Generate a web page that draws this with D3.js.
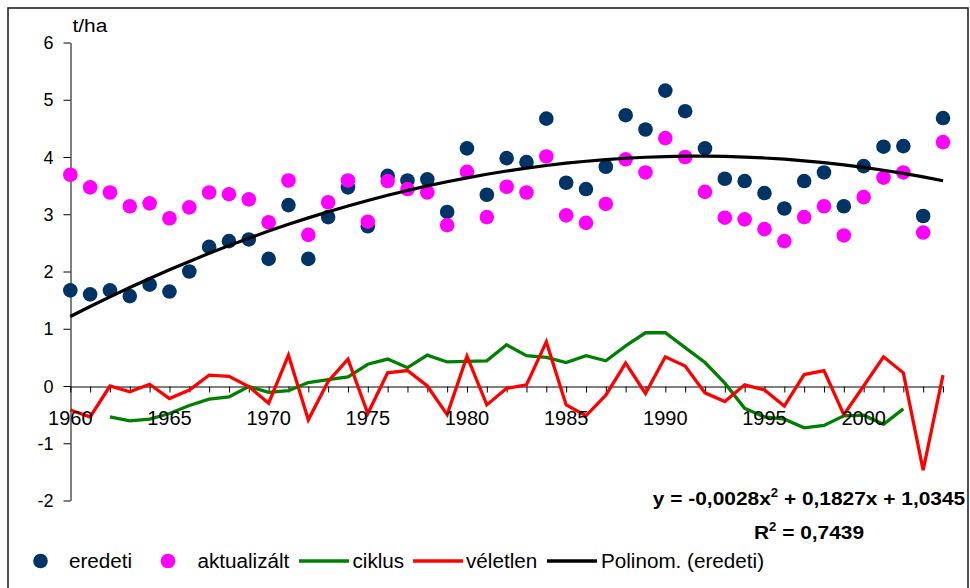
<!DOCTYPE html>
<html>
<head>
<meta charset="utf-8">
<script src="https://cdn.jsdelivr.net/npm/d3@7"></script>
<style>
  html, body { margin: 0; padding: 0; background: #fff; }
  svg { display: block; font-family: "Liberation Sans", Arial, sans-serif; }
</style>
</head>
<body>
<svg id="chart" width="970" height="588"></svg>
<script>
// Terméshozam idősor, 1960–2004 (t/ha)
const firstYear = 1960;
const lastYear = 2004;
const years = d3.range(firstYear, lastYear + 1);

const eredeti = [
  1.67, 1.60, 1.67, 1.57, 1.77, 1.65, 2.00, 2.43, 2.53, 2.56,
  2.22, 3.16, 2.22, 2.95, 3.47, 2.79, 3.67, 3.59, 3.61, 3.04,
  4.15, 3.34, 3.98, 3.91, 4.67, 3.55, 3.44, 3.83, 4.73, 4.48,
  5.16, 4.80, 4.15, 3.62, 3.58, 3.37, 3.10, 3.58, 3.73, 3.14,
  3.84, 4.18, 4.19, 2.97, 4.68
];

const aktualizalt = [
  3.69, 3.47, 3.38, 3.14, 3.19, 2.93, 3.12, 3.38, 3.35, 3.26,
  2.86, 3.59, 2.64, 3.21, 3.59, 2.87, 3.58, 3.44, 3.38, 2.81,
  3.74, 2.95, 3.48, 3.38, 4.01, 2.98, 2.85, 3.18, 3.96, 3.73,
  4.33, 4.00, 3.39, 2.94, 2.91, 2.74, 2.53, 2.95, 3.14, 2.63,
  3.30, 3.64, 3.73, 2.68, 4.26
];

const ciklus = [
  null, null, -0.54, -0.61, -0.58, -0.48, -0.34, -0.23, -0.19, -0.01,
  -0.11, -0.08, 0.06, 0.11, 0.16, 0.38, 0.47, 0.32, 0.54, 0.42,
  0.43, 0.44, 0.72, 0.53, 0.50, 0.41, 0.53, 0.44, 0.70, 0.93,
  0.93, 0.67, 0.41, 0.05, -0.39, -0.54, -0.58, -0.73, -0.69, -0.52,
  -0.51, -0.67, -0.40, null, null
];

const veletlen = [
  -0.42, -0.54, 0.00, -0.10, 0.03, -0.22, -0.07, 0.19, 0.17, -0.01,
  -0.30, 0.54, -0.59, 0.08, 0.47, -0.48, 0.23, 0.27, 0.00, -0.50,
  0.52, -0.33, -0.04, 0.02, 0.77, -0.33, -0.52, -0.16, 0.40, -0.13,
  0.51, 0.35, -0.12, -0.27, 0.02, -0.07, -0.35, 0.20, 0.27, -0.50,
  0.00, 0.51, 0.23, -1.47, 0.19
];

// Másodfokú trend együtthatói (x = 1 .. 45): a, b, c
const polyCoef = [-0.0028, 0.1827, 1.0345];
const r2 = "0,7439";

const yTicks = [6, 5, 4, 3, 2, 1, 0, -1, -2];
const xLabelYears = [1960, 1965, 1970, 1975, 1980, 1985, 1990, 1995, 2000];

const colors = {
  eredeti: "#003366",
  aktualizalt: "#ff00ff",
  ciklus: "#008000",
  veletlen: "#ff0000",
  trend: "#000000"
};

const svg = d3.select("#chart");

// Külső keret
svg.append("rect")
  .attr("x", 8).attr("y", 8)
  .attr("width", 960).attr("height", 600)
  .attr("fill", "#fff")
  .attr("stroke", "#222").attr("stroke-width", 1.6);

const x = d3.scalePoint().domain(years).range([70.3, 943]);
const y = d3.scaleLinear().domain([-2, 6]).range([500.5, 42.5]);

// Függőleges tengely
const yAxis = svg.append("g")
  .attr("transform", "translate(70.5,0)")
  .call(d3.axisLeft(y).tickValues(yTicks).tickSize(7).tickSizeOuter(0).tickFormat(""));
yAxis.select(".domain").attr("stroke", "#000");
yAxis.selectAll(".tick line").attr("stroke", "#000");

svg.append("g").selectAll("text")
  .data(yTicks)
  .join("text")
  .attr("x", 53.5)
  .attr("y", d => y(d) + 6.5)
  .attr("text-anchor", "end")
  .attr("font-size", 18)
  .attr("fill", "#000")
  .text(d => d < 0 ? "-" + Math.abs(d) : String(d));

// Mértékegység
svg.append("text")
  .attr("transform", "translate(72.5,31.5) scale(1.1,1)")
  .attr("font-size", 19)
  .attr("fill", "#000")
  .text("t/ha");

// Vízszintes tengely a nullánál
const xAxis = svg.append("g")
  .attr("transform", `translate(0,${Math.round(y(0)) + 0.5})`)
  .call(d3.axisBottom(x).tickSize(6).tickSizeOuter(0).tickFormat(""));
xAxis.select(".domain").attr("stroke", "#000");
xAxis.selectAll(".tick line").attr("stroke", "#000");

// Pontsorok
const dotR = 7.3;
svg.append("g").selectAll("circle")
  .data(eredeti.map((v, i) => ({ yr: years[i], v })))
  .join("circle")
  .attr("cx", d => x(d.yr)).attr("cy", d => y(d.v))
  .attr("r", dotR).attr("fill", colors.eredeti);

svg.append("g").selectAll("circle")
  .data(aktualizalt.map((v, i) => ({ yr: years[i], v })))
  .join("circle")
  .attr("cx", d => x(d.yr)).attr("cy", d => y(d.v))
  .attr("r", dotR).attr("fill", colors.aktualizalt);

// Vonalak
const line = d3.line()
  .defined(d => d.v !== null)
  .x(d => x(d.yr))
  .y(d => y(d.v));

svg.append("path")
  .datum(ciklus.map((v, i) => ({ yr: years[i], v })))
  .attr("d", line)
  .attr("fill", "none")
  .attr("stroke", colors.ciklus)
  .attr("stroke-width", 3.3);

svg.append("path")
  .datum(veletlen.map((v, i) => ({ yr: years[i], v })))
  .attr("d", line)
  .attr("fill", "none")
  .attr("stroke", colors.veletlen)
  .attr("stroke-width", 3.3);

// Polinomiális trend az egyenlet együtthatóiból
const trend = years.map((yr, i) => {
  const t = i + 1;
  return { yr, v: polyCoef[0] * t * t + polyCoef[1] * t + polyCoef[2] };
});
svg.append("path")
  .datum(trend)
  .attr("d", line)
  .attr("fill", "none")
  .attr("stroke", colors.trend)
  .attr("stroke-width", 3.2);

// Évszám feliratok
svg.append("g").selectAll("text")
  .data(xLabelYears)
  .join("text")
  .attr("x", d => x(d))
  .attr("y", 425)
  .attr("text-anchor", "middle")
  .attr("font-size", 20)
  .attr("fill", "#000")
  .text(d => d);

// Trendegyenlet
const eq = svg.append("text")
  .attr("transform", "translate(809,505) scale(1.1,1)")
  .attr("text-anchor", "middle")
  .attr("font-size", 19)
  .attr("font-weight", "bold")
  .attr("fill", "#000");
eq.append("tspan").text("y = -0,0028x");
eq.append("tspan").attr("font-size", 12).attr("dy", -8).text("2");
eq.append("tspan").attr("dy", 8).text(" + 0,1827x + 1,0345");

const r2t = svg.append("text")
  .attr("transform", "translate(809,538.5) scale(1.1,1)")
  .attr("text-anchor", "middle")
  .attr("font-size", 19)
  .attr("font-weight", "bold")
  .attr("fill", "#000");
r2t.append("tspan").text("R");
r2t.append("tspan").attr("font-size", 12).attr("dy", -8).text("2");
r2t.append("tspan").attr("dy", 8).text(" = " + r2);

// Jelmagyarázat
const legendY = 561;
const legendItems = [
  { type: "dot", color: colors.eredeti, sx: 40.5, tx: 69, label: "eredeti" },
  { type: "dot", color: colors.aktualizalt, sx: 168, tx: 197.5, label: "aktualizált" },
  { type: "line", color: colors.ciklus, sx: 299, ex: 349, tx: 352.5, label: "ciklus" },
  { type: "line", color: colors.veletlen, sx: 413, ex: 463, tx: 466, label: "véletlen" },
  { type: "line", color: colors.trend, sx: 547, ex: 597, tx: 601, label: "Polinom. (eredeti)" }
];
const lg = svg.append("g");
legendItems.forEach(it => {
  if (it.type === "dot") {
    lg.append("circle").attr("cx", it.sx).attr("cy", legendY).attr("r", 7.3).attr("fill", it.color);
  } else {
    lg.append("line")
      .attr("x1", it.sx).attr("x2", it.ex)
      .attr("y1", legendY).attr("y2", legendY)
      .attr("stroke", it.color).attr("stroke-width", 3.5);
  }
  lg.append("text")
    .attr("transform", `translate(${it.tx},${legendY + 6.5}) scale(1.06,1)`)
    .attr("font-size", 19.5)
    .attr("fill", "#000")
    .text(it.label);
});
</script>
</body>
</html>
